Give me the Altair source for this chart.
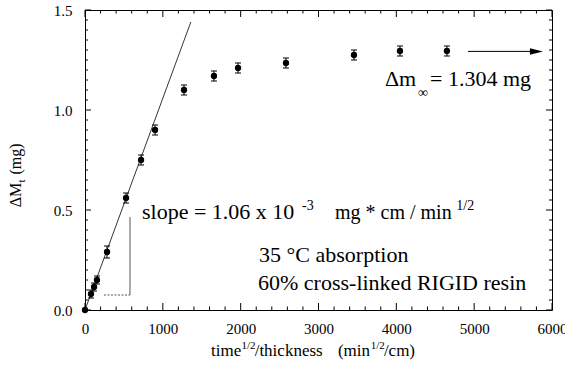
import altair as alt
import pandas as pd

# ---- data ----
t_vals = [0, 77, 116, 154, 283, 527, 720, 900, 1272, 1657, 1966, 2582, 3456, 4047, 4650]
dm_vals = [0.0, 0.08, 0.115, 0.15, 0.29, 0.56, 0.75, 0.90, 1.10, 1.17, 1.21, 1.235, 1.275, 1.295, 1.295]
dm_err = [0.0, 0.02, 0.02, 0.02, 0.03, 0.025, 0.025, 0.025, 0.025, 0.025, 0.025, 0.025, 0.025, 0.025, 0.025]

fit_x = [0, 1360]
fit_y = [0.0, 1.44]

slope_vert_x = [578, 578]
slope_vert_y = [0.075, 0.465]
slope_hor_x = [244, 578]
slope_hor_y = [0.075, 0.075]

arrow_x = [4920, 5720]
arrow_y = [1.293, 1.293]
arrow_head = [5800]

x_ticks = [0, 1000, 2000, 3000, 4000, 5000, 6000]
y_ticks = [0.0, 0.5, 1.0, 1.5]

# annotations (data coordinates)
ann_text = ["slope = 1.06 x 10", "-3", "mg * cm / min", "1/2",
            "\u0394m", "\u221e", "= 1.304 mg",
            "35 \u00b0C absorption", "60% cross-linked RIGID resin",
            "time", "1/2", "/thickness", "(min", "1/2", "/cm)"]
ann_x = [732, 2788, 3212, 4770,
         3854, 4278, 4433,
         2236, 2223,
         1620, 2010, 2180, 3250, 3670, 3840]
ann_y = [0.455, 0.50, 0.455, 0.50,
         1.12, 1.065, 1.12,
         0.24, 0.10,
         -0.23, -0.195, -0.23, -0.23, -0.195, -0.23]
ann_size = [22, 14, 20, 14,
            22, 14, 22,
            22, 22,
            17, 11, 17, 17, 11, 17]

# rotated y-axis title pieces (centre of each piece, data coordinates)
ytitle_text = ["\u0394M", "t", "(mg)"]
ytitle_x = [-822, -771, -822]
ytitle_y = [0.575, 0.645, 0.755]
ytitle_size = [16, 11, 16]

XMAX, YMAX = 6000, 1.5
W, H = 467, 300
ux, uy = XMAX / W, YMAX / H
FONT = "Liberation Serif, Times New Roman, Times, serif"

xs = alt.Scale(domain=[0, XMAX], nice=False, zero=False)
ys = alt.Scale(domain=[0, YMAX], nice=False, zero=False)
xaxis = alt.Axis(values=x_ticks, format="d", labelFont=FONT, labelFontSize=15,
                 labelColor="black", ticks=False, tickSize=0, domain=False, grid=False,
                 title=None, labelPadding=11, labelFlush=False, labelOverlap=False)
yaxis = alt.Axis(values=y_ticks, format=".1f", labelFont=FONT, labelFontSize=15,
                 labelColor="black", ticks=False, tickSize=0, domain=False, grid=False,
                 title=None, labelPadding=13, labelFlush=False, labelOverlap=False)


def X(f):
    return alt.X(f, type="quantitative", scale=xs, axis=xaxis)


def Y(f):
    return alt.Y(f, type="quantitative", scale=ys, axis=yaxis)


# ---- inward ticks on all four sides ----
rows = []
for i in range(0, 31):
    v = i * 200
    L = 7 if v % 1000 == 0 else 3.5
    rows.append((v, v, 0, L * uy))
    rows.append((v, v, YMAX, YMAX - L * uy))
for i in range(0, 31):
    v = round(i * 0.05, 2)
    L = 6 if i % 10 == 0 else 3
    rows.append((0, L * ux, v, v))
    rows.append((XMAX, XMAX - L * ux, v, v))
ticks_df = pd.DataFrame(rows, columns=["x", "x2", "y", "y2"])

ticks = alt.Chart(ticks_df).mark_rule(color="black", strokeWidth=1).encode(
    x=X("x"), x2="x2:Q", y=Y("y"), y2="y2:Q")

pts_df = pd.DataFrame({"t": t_vals, "m": dm_vals, "e": dm_err})
pts_df["lo"] = pts_df["m"] - pts_df["e"]
pts_df["hi"] = pts_df["m"] + pts_df["e"]
err_df = pts_df[pts_df["e"] > 0]

points = alt.Chart(pts_df).mark_circle(size=40, color="black", opacity=1).encode(
    x=X("t"), y=Y("m"))

bars = alt.Chart(err_df).mark_rule(color="black", strokeWidth=1).encode(
    x=X("t"), y=Y("lo"), y2="hi:Q")
cap_lo = alt.Chart(err_df).mark_tick(orient="horizontal", size=6, thickness=1,
                                     color="black", opacity=1).encode(x=X("t"), y=Y("lo"))
cap_hi = alt.Chart(err_df).mark_tick(orient="horizontal", size=6, thickness=1,
                                     color="black", opacity=1).encode(x=X("t"), y=Y("hi"))

fit = alt.Chart(pd.DataFrame({"x": fit_x, "y": fit_y})).mark_line(
    color="black", strokeWidth=0.8).encode(x=X("x"), y=Y("y"))

svert = alt.Chart(pd.DataFrame({"x": slope_vert_x, "y": slope_vert_y})).mark_line(
    color="#444444", strokeWidth=0.9).encode(x=X("x"), y=Y("y"))
shor = alt.Chart(pd.DataFrame({"x": slope_hor_x, "y": slope_hor_y})).mark_line(
    color="#444444", strokeWidth=0.9, strokeDash=[2, 1.5]).encode(x=X("x"), y=Y("y"))

arrow = alt.Chart(pd.DataFrame({"x": arrow_x, "y": arrow_y})).mark_line(
    color="black", strokeWidth=1).encode(x=X("x"), y=Y("y"))
head = alt.Chart(pd.DataFrame({"x": arrow_head, "y": arrow_y[:1]})).mark_point(
    shape="M-1,-0.5L1,0L-1,0.5Z", filled=True, size=170, color="black", opacity=1).encode(
    x=X("x"), y=Y("y"))

ann = alt.Chart(pd.DataFrame({"text": ann_text, "x": ann_x, "y": ann_y, "s": ann_size})).mark_text(
    font=FONT, color="black", align="left", baseline="alphabetic").encode(
    x=X("x"), y=Y("y"), text="text:N", size=alt.Size("s:Q", scale=None, legend=None))

ytitle = alt.Chart(pd.DataFrame({"text": ytitle_text, "x": ytitle_x, "y": ytitle_y,
                                 "s": ytitle_size})).mark_text(
    font=FONT, color="black", align="center", baseline="alphabetic", angle=270).encode(
    x=X("x"), y=Y("y"), text="text:N", size=alt.Size("s:Q", scale=None, legend=None))

chart = alt.layer(ticks, fit, svert, shor, bars, cap_lo, cap_hi, points, arrow, head,
                  ann, ytitle).properties(
    width=W, height=H,
    autosize=alt.AutoSizeParams(type="none"),
    padding={"left": 85, "top": 10, "right": 13, "bottom": 64},
    background="white",
).configure_view(stroke="black", strokeWidth=1)

chart.save("out.html", embed_options={"renderer": "svg", "actions": False})
